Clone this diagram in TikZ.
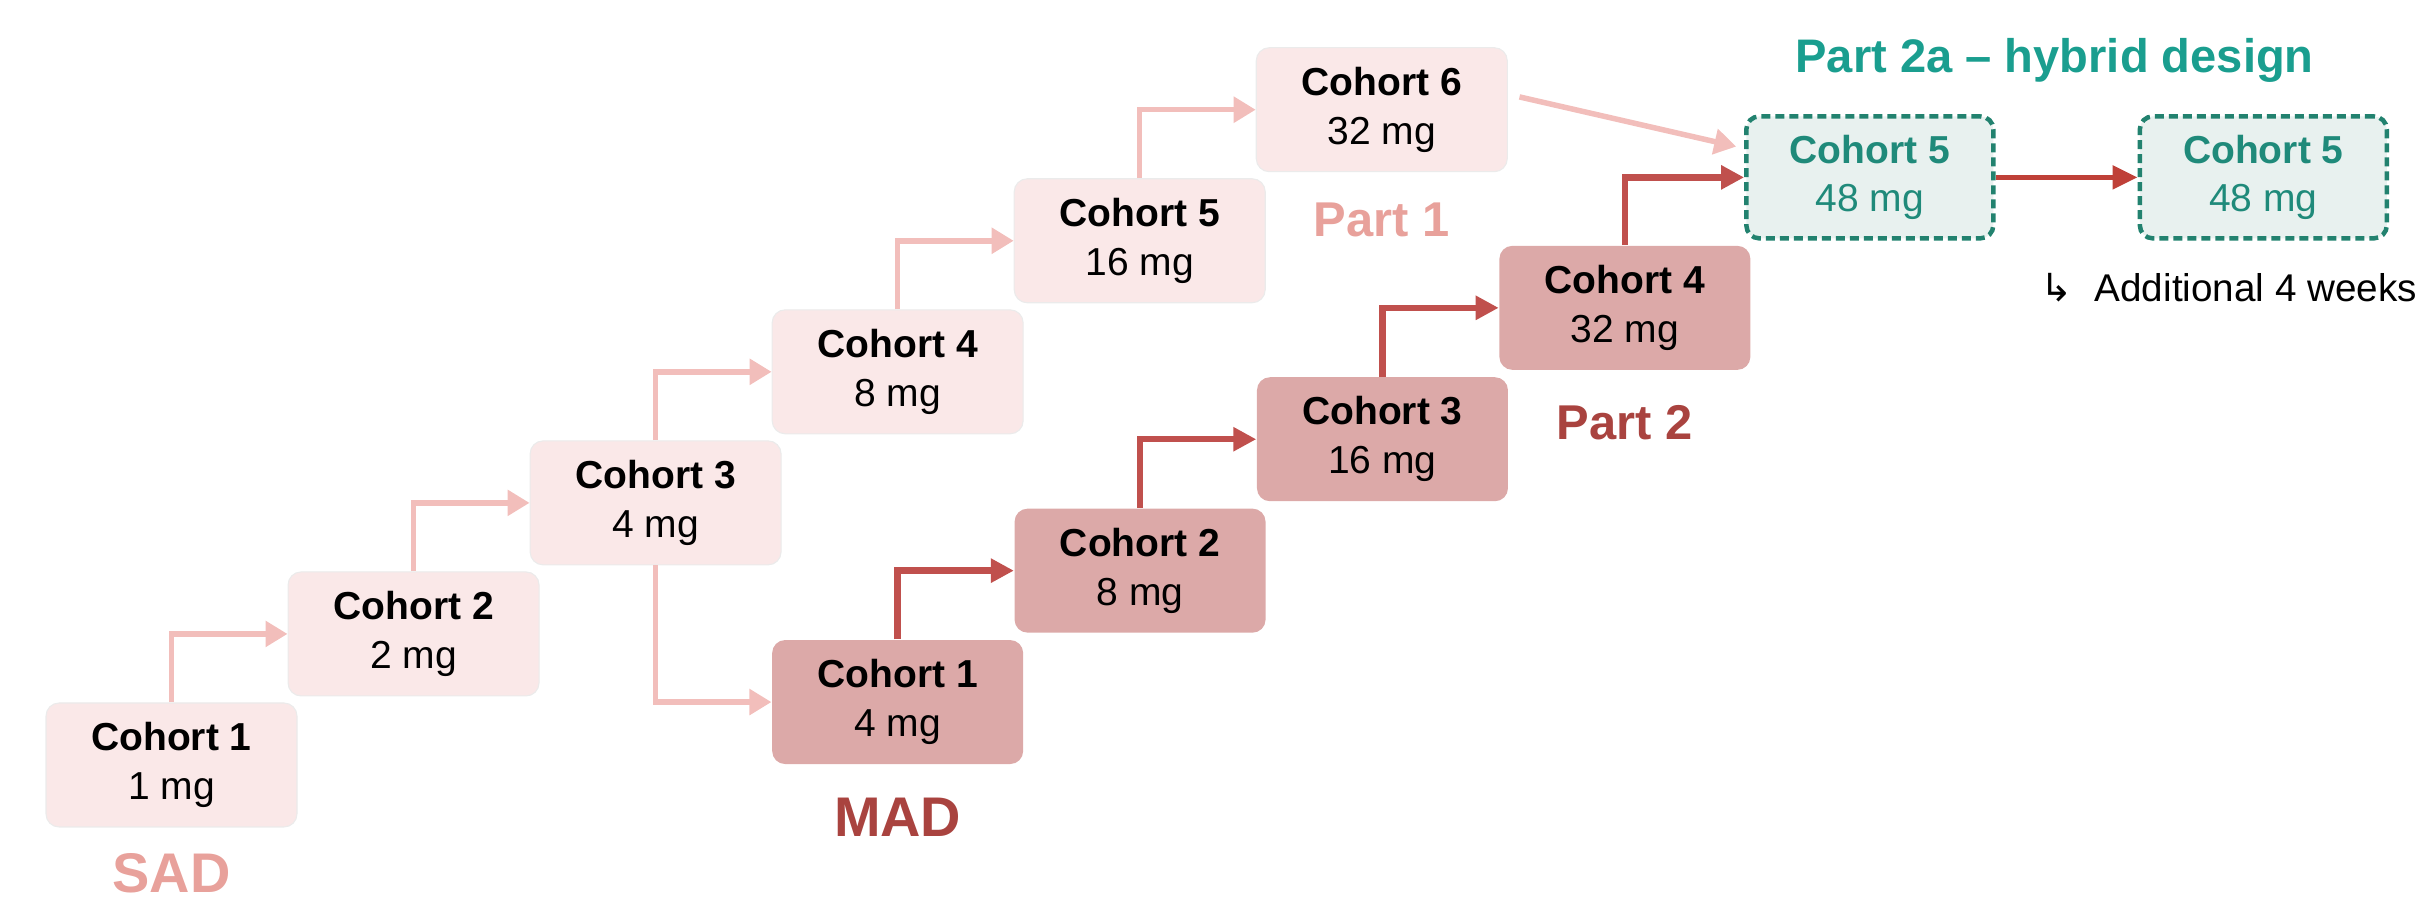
\documentclass[tikz,border=0pt]{standalone}
\usepackage{fontspec}
\setmainfont{Liberation Sans}
\newfontfamily\symfont{DejaVu Sans}
\usepackage{tikz}
\usetikzlibrary{positioning, arrows.meta, calc}

\definecolor{sadfill}{HTML}{FAE8E8}
\definecolor{madfill}{HTML}{DCA9A8}
\definecolor{hybfill}{HTML}{E8F1EF}
\definecolor{hybdraw}{HTML}{22826F}
\definecolor{hybtext}{HTML}{1F8A7A}
\definecolor{hyblabel}{HTML}{1A9E8F}
\definecolor{sadarrow}{HTML}{F2BEBB}
\definecolor{madarrow}{HTML}{C0504D}
\definecolor{hybarrow}{HTML}{BF4038}
\definecolor{sadlabel}{HTML}{E8A19B}
\definecolor{madlabel}{HTML}{A9433F}

\begin{document}
\begin{tikzpicture}
	% Define styles
	\tikzset{
		cohort/.style={rectangle, rounded corners=0.13cm, minimum width=2.51cm, minimum height=1.24cm, inner sep=0pt, align=center, font=\fontsize{11.1}{13.9}\selectfont},
		sad/.style={cohort, fill=sadfill, draw=black!8, line width=0.3pt},
		mad/.style={cohort, fill=madfill},
		hyb/.style={cohort, minimum width=2.47cm, minimum height=1.22cm, fill=hybfill, draw=hybdraw, line width=0.045cm, dash pattern=on 0.09cm off 0.05cm, text=hybtext},
		grouplabel/.style={inner sep=0pt, font=\fontsize{15.9}{18}\selectfont\bfseries},
		partlabel/.style={inner sep=0pt, font=\fontsize{13.9}{16}\selectfont\bfseries},
		sadline/.style={draw=sadarrow, line width=0.055cm, -{Triangle[length=0.22cm, width=0.25cm]}},
		madline/.style={draw=madarrow, line width=0.065cm, -{Triangle[length=0.23cm, width=0.23cm]}},
		hybline/.style={draw=hybarrow, line width=0.05cm, -{Triangle[length=0.25cm, width=0.23cm]}}
	}
	\useasboundingbox (0,0) rectangle (24.18,-8.99);
	
	% SAD nodes
	\node[sad] (s1) at (1.715,-7.65) {\textbf{Cohort 1}\\1 mg};
	\node[sad, above right=0.06cm and -0.10cm of s1] (s2) {\textbf{Cohort 2}\\2 mg};
	\node[sad, above right=0.06cm and -0.10cm of s2] (s3) {\textbf{Cohort 3}\\4 mg};
	\node[sad, above right=0.06cm and -0.10cm of s3] (s4) {\textbf{Cohort 4}\\8 mg};
	\node[sad, above right=0.06cm and -0.10cm of s4] (s5) {\textbf{Cohort 5}\\16 mg};
	\node[sad, above right=0.06cm and -0.10cm of s5] (s6) {\textbf{Cohort 6}\\32 mg};
	
	% MAD nodes
	\node[mad, below=2.05cm of s4] (m1) {\textbf{Cohort 1}\\4 mg};
	\node[mad, above right=0.06cm and -0.10cm of m1] (m2) {\textbf{Cohort 2}\\8 mg};
	\node[mad, above right=0.06cm and -0.10cm of m2] (m3) {\textbf{Cohort 3}\\16 mg};
	\node[mad, above right=0.06cm and -0.10cm of m3] (m4) {\textbf{Cohort 4}\\32 mg};
	
	% Part 2a nodes
	\node[hyb, above right=0.045cm and -0.07cm of m4] (h1) {\textbf{Cohort 5}\\48 mg};
	\node[hyb, right=1.42cm of h1] (h2) {\textbf{Cohort 5}\\48 mg};
	
	% Labels
	\node[grouplabel, text=sadlabel, below=0.25cm of s1] (sadlbl) {SAD};
	\node[grouplabel, text=madlabel, below=0.33cm of m1] (madlbl) {MAD};
	\node[partlabel, text=sadlabel, below=0.30cm of s6] (part1) {Part 1};
	\node[partlabel, text=madlabel, below=0.34cm of m4] (part2) {Part 2};
	\node[inner sep=0pt, anchor=base, text=hyblabel, font=\fontsize{13.4}{16}\selectfont\bfseries] (part2a) at ($(h1.north)!0.5!(h2.north)+(-0.12cm,0.42cm)$) {Part 2a -- hybrid design};
	\node[inner sep=0pt, anchor=base west, font=\fontsize{11}{13}\selectfont] (extra) at ([xshift=-0.98cm, yshift=-0.61cm]h2.south west) {{\symfont ↳}\hspace{0.22cm}Additional 4 weeks};
	
	% Arrows
	\draw[sadline] (s1.north) |- (s2.west);
	\draw[sadline] (s2.north) |- (s3.west);
	\draw[sadline] (s3.north) |- (s4.west);
	\draw[sadline] (s4.north) |- (s5.west);
	\draw[sadline] (s5.north) |- (s6.west);
	\draw[sadline] (s3.south) |- (m1.west);
	
	\draw[madline] (m1.north) |- (m2.west);
	\draw[madline] (m2.north) |- (m3.west);
	\draw[madline] (m3.north) |- (m4.west);
	\draw[madline] (m4.north) |- (h1.west);
	
	\draw[sadline, shorten <=0.12cm, shorten >=0.08cm] (s6.7) -- (h1.167);
	\draw[hybline] (h1) -- (h2);
	
\end{tikzpicture}
\end{document}
